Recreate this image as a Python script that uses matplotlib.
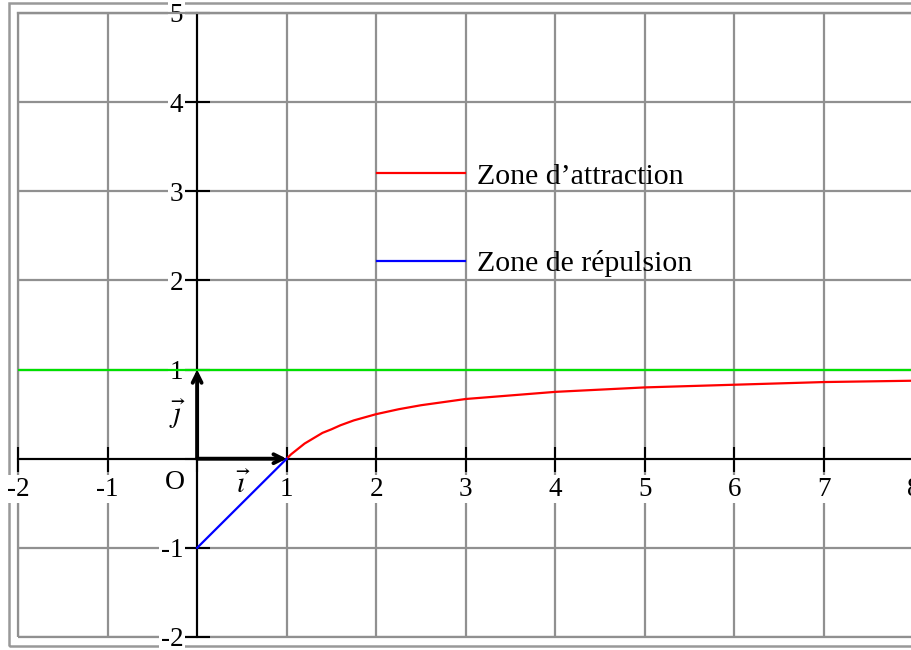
import numpy as np
import matplotlib
matplotlib.use('Agg')
import matplotlib.pyplot as plt
from matplotlib.patches import Rectangle

plt.rcParams['font.family'] = ['Liberation Serif', 'DejaVu Serif']
plt.rcParams['mathtext.fontset'] = 'stix'

# donnees
x_attr = [1, 1.05, 1.1, 1.2, 1.3, 1.4, 1.5, 1.6, 1.75, 2, 2.25, 2.5, 3, 3.5, 4, 5, 6, 7, 8]
y_attr = [0, 0.05, 0.09, 0.17, 0.23, 0.29, 0.33, 0.375, 0.43, 0.5, 0.555, 0.6, 0.67, 0.71, 0.75, 0.8, 0.83, 0.86, 0.875]
x_rep = [0, 1]
y_rep = [-1, 0]
y_asym = 1

fig = plt.figure(figsize=(9.12, 6.5), dpi=100)
ax = fig.add_axes([18/912, 13/650, 895.6/912, 624/650])
ax.set_xlim(-2, 8)
ax.set_ylim(-2, 5)

# cadre exterieur
fig.patches.append(Rectangle((9/912, 4/650), 1.2, 643/650, transform=fig.transFigure,
                             fill=False, edgecolor='#999999', lw=1.8, zorder=-1))

ax.set_xticks(range(-2, 9))
ax.set_yticks(range(-2, 6))
ax.grid(True, color='#909090', lw=1.6)
ax.set_axisbelow(True)
for s in ['top', 'right']:
    ax.spines[s].set_color('#909090')
    ax.spines[s].set_linewidth(1.6)
ax.spines['left'].set_position(('data', 0))
ax.spines['bottom'].set_position(('data', 0))
ax.spines['left'].set_linewidth(1.5)
ax.spines['bottom'].set_linewidth(1.5)
ax.spines['left'].set_zorder(2)
ax.spines['bottom'].set_zorder(2)
# bords gauche et bas du cadre
ax.add_patch(Rectangle((0, 0), 1, 1, transform=ax.transAxes, fill=False,
                       edgecolor='#909090', lw=1.6, zorder=0.5, clip_on=False))

ax.tick_params(direction='inout', length=18, width=1.5, color='black')
ax.set_xticklabels([str(v) if v != 0 else '' for v in range(-2, 9)], fontsize=19.5)
ax.set_yticklabels([str(v) if v != 0 else '' for v in range(-2, 6)], fontsize=19.5)
ax.tick_params(axis='x', pad=4)
ax.tick_params(axis='y', pad=1)
for lab in ax.get_xticklabels() + ax.get_yticklabels():
    lab.set_bbox(dict(facecolor='white', edgecolor='none', pad=1))

ax.axhline(y_asym, color='#00e000', lw=1.6, zorder=3)
ax.plot(x_attr, y_attr, color='red', lw=1.6, label="Zone d\u2019attraction", zorder=3)
ax.plot(x_rep, y_rep, color='blue', lw=1.6, label='Zone de r\u00e9pulsion', zorder=3)

# vecteurs unitaires
ax.annotate('', xy=(1, 0), xytext=(0, 0),
            arrowprops=dict(arrowstyle='->', lw=2.8, color='black', shrinkA=0, shrinkB=0,
                            mutation_scale=16), zorder=4)
ax.annotate('', xy=(0, 1), xytext=(0, 0),
            arrowprops=dict(arrowstyle='->', lw=2.8, color='black', shrinkA=0, shrinkB=0,
                            mutation_scale=16), zorder=4)
ax.text(-0.22, 0.5, r'$\vec{\jmath}$', fontsize=21, ha='center', va='center')
ax.text(0.52, -0.3, r'$\vec{\imath}$', fontsize=21, ha='center', va='center')
ax.text(-0.25, -0.27, 'O', fontsize=20, ha='center', va='center')

ax.legend(loc='upper left', bbox_to_anchor=(0.401, 0.76), frameon=False, fontsize=21.5,
          handlelength=2.95, handletextpad=0.38, labelspacing=2.03, borderpad=0,
          borderaxespad=0)

fig.savefig('out.png', dpi=100)
